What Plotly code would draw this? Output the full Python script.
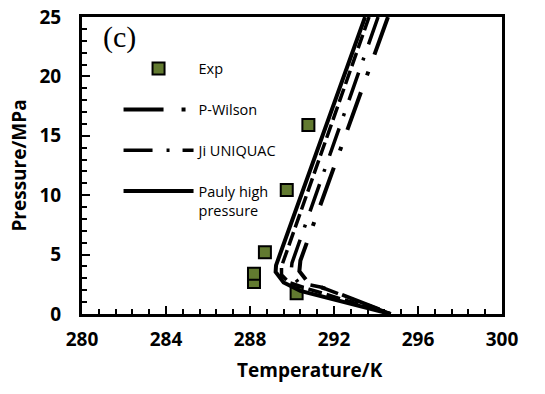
import plotly.graph_objects as go

# ---- data ----
exp_T = [288.19, 288.19, 288.71, 289.75, 290.78, 290.22]
exp_P = [2.69, 3.39, 5.19, 10.44, 15.90, 1.74]

pauly_T = [293.48, 289.24, 289.22, 289.60, 290.40, 294.70]
pauly_P = [25.00, 4.10, 3.55, 2.65, 1.95, 0.00]

extra_T = [293.67, 289.50, 289.50, 289.85, 290.80, 294.70]
extra_P = [25.00, 4.00, 3.30, 2.65, 2.10, 0.00]

ji_T = [294.10, 290.00, 289.95, 290.30, 291.40, 294.70]
ji_P = [25.00, 4.30, 3.50, 2.65, 2.25, 0.00]

pw_T = [294.57, 290.40, 290.35, 290.80, 292.20, 294.70]
pw_P = [25.00, 4.50, 3.60, 2.60, 1.75, 0.00]

x_ticks = [280, 284, 288, 292, 296, 300]
y_ticks = [0, 5, 10, 15, 20, 25]

GREEN = "#627a30"

fig = go.Figure()
fig.add_trace(go.Scatter(
    x=exp_T, y=exp_P, mode="markers", name="Exp", legendgroup="a",
    marker=dict(symbol="square", size=12, color=GREEN,
                line=dict(color="black", width=2)),
))
fig.add_trace(go.Scatter(
    x=pw_T, y=pw_P, mode="lines", name="P-Wilson", legendgroup="b",
    line=dict(color="black", width=4, dash="40px,18px,4px,18px"),
))
fig.add_trace(go.Scatter(
    x=ji_T, y=ji_P, mode="lines", name="Ji UNIQUAC", legendgroup="c",
    line=dict(color="black", width=3.5, dash="29px,14px,3px,13px"),
))
fig.add_trace(go.Scatter(
    x=pauly_T, y=pauly_P, mode="lines", name="Pauly high<br>pressure",
    legendgroup="d", line=dict(color="black", width=4),
))
fig.add_trace(go.Scatter(
    x=extra_T, y=extra_P, mode="lines", showlegend=False,
    line=dict(color="black", width=3.5, dash="14px,5px"),
))

tickfont = dict(family="Open Sans", size=19, color="black", weight="bold")
fig.update_xaxes(
    range=[280, 300], tickvals=x_ticks, ticks="inside", ticklen=8, tickwidth=2,
    tickcolor="black", showline=True, linewidth=3, linecolor="black",
    mirror=True, showgrid=False, zeroline=False, tickfont=tickfont,
    ticklabelstandoff=6, automargin=False,
    minor=dict(dtick=0.8, tick0=280, ticks="inside", ticklen=5, tickwidth=2,
               tickcolor="black", showgrid=False),
)
fig.update_yaxes(
    range=[0, 25], tickvals=y_ticks, ticks="inside", ticklen=8, tickwidth=2,
    tickcolor="black", showline=True, linewidth=3, linecolor="black",
    mirror=True, showgrid=False, zeroline=False, tickfont=tickfont,
    ticklabelstandoff=14, automargin=False,
    minor=dict(dtick=1, tick0=0, ticks="inside", ticklen=5, tickwidth=2,
               tickcolor="black", showgrid=False),
    title=dict(text="Pressure/MPa", font=dict(family="Open Sans", size=19,
               color="black", weight="bold"), standoff=8),
)

# x-axis title (slightly right of the plot centre, as in the reference)
fig.add_annotation(
    x=0.543, y=-0.19, xref="paper", yref="paper", xanchor="center",
    yanchor="middle", text="Temperature/K", showarrow=False,
    font=dict(family="Open Sans", size=19, color="black", weight="bold"),
)

fig.add_annotation(
    x=0.046, y=0.998, xref="paper", yref="paper", xanchor="left", yanchor="top",
    text="(c)", showarrow=False,
    font=dict(family="Liberation Serif", size=30, color="black"),
)

fig.update_layout(
    width=545, height=394,
    margin=dict(l=82, r=43, t=17, b=80, autoexpand=False),
    plot_bgcolor="white", paper_bgcolor="white",
    legend=dict(x=0.087, y=0.88, xanchor="left", yanchor="top",
                bgcolor="rgba(0,0,0,0)", itemwidth=70, valign="top",
                tracegroupgap=19,
                font=dict(family="Open Sans", size=14.5, color="black")),
)

fig.write_html(
    "out.html",
    config={"displayModeBar": False},
    post_script="document.body.style.margin='0';document.body.style.overflow='hidden';",
)
